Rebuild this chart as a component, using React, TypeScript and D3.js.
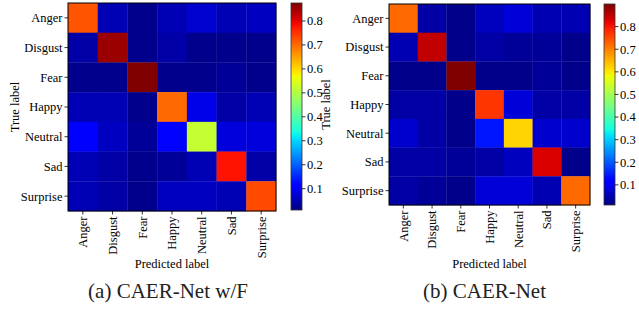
import React from "react";
import * as d3 from "d3";

const categories = ["Anger", "Disgust", "Fear", "Happy", "Neutral", "Sad", "Surprise"];

// rows = true label, cols = predicted label
const matrixWF: number[][] = [
  [0.72, 0.05, 0.02, 0.05, 0.07, 0.05, 0.06],
  [0.04, 0.855, 0.02, 0.04, 0.02, 0.02, 0.02],
  [0.02, 0.02, 0.875, 0.02, 0.02, 0.03, 0.02],
  [0.05, 0.05, 0.02, 0.70, 0.09, 0.04, 0.05],
  [0.11, 0.06, 0.03, 0.12, 0.52, 0.08, 0.08],
  [0.05, 0.04, 0.02, 0.03, 0.05, 0.78, 0.04],
  [0.05, 0.04, 0.02, 0.06, 0.06, 0.05, 0.73],
];

const matrixNet: number[][] = [
  [0.72, 0.04, 0.02, 0.06, 0.08, 0.05, 0.05],
  [0.05, 0.85, 0.02, 0.04, 0.03, 0.03, 0.02],
  [0.02, 0.02, 0.9, 0.02, 0.02, 0.03, 0.02],
  [0.04, 0.04, 0.02, 0.77, 0.08, 0.04, 0.04],
  [0.07, 0.04, 0.02, 0.14, 0.62, 0.07, 0.07],
  [0.04, 0.04, 0.03, 0.04, 0.06, 0.83, 0.02],
  [0.04, 0.03, 0.02, 0.08, 0.08, 0.05, 0.72],
];

const cbarTicks = [0.1, 0.2, 0.3, 0.4, 0.5, 0.6, 0.7, 0.8];
const captions = ["(a) CAER-Net w/F", "(b) CAER-Net"];
const domainWF: [number, number] = [0.011, 0.875];
const domainNet: [number, number] = [0.011, 0.9];

function jet(t: number): string {
  t = Math.max(0, Math.min(1, t));
  const seg = (pts: [number, number][]) => {
    for (let i = 0; i < pts.length - 1; i++) {
      const [x0, y0] = pts[i];
      const [x1, y1] = pts[i + 1];
      if (t >= x0 && t <= x1) return y0 + ((t - x0) / (x1 - x0)) * (y1 - y0);
    }
    return pts[pts.length - 1][1];
  };
  const r = seg([[0, 0], [0.35, 0], [0.66, 1], [0.89, 1], [1, 0.5]]);
  const g = seg([[0, 0], [0.125, 0], [0.375, 1], [0.64, 1], [0.91, 0], [1, 0]]);
  const b = seg([[0, 0.5], [0.11, 1], [0.34, 1], [0.65, 0], [1, 0]]);
  return d3.rgb(r * 255, g * 255, b * 255).formatHex();
}

const FONT = "Liberation Serif";

type PanelProps = {
  id: string;
  data: number[][];
  domain: [number, number];
  mx: number; my: number; ms: number;
  cx: number; cw: number; ch: number;
  ylabX: number;
  captionX: number;
  caption: string;
};

function Panel(p: PanelProps) {
  const xb = d3.scaleBand<string>().domain(categories).range([p.mx, p.mx + p.ms]);
  const yb = d3.scaleBand<string>().domain(categories).range([p.my, p.my + p.ms]);
  const norm = d3.scaleLinear().domain(p.domain).range([0, 1]);
  const cy = d3.scaleLinear().domain(p.domain).range([p.my + p.ch, p.my]);
  const stops = d3.range(0, 1.0001, 0.02);
  const fs = 12.5;
  const ts: React.CSSProperties = { fontFamily: FONT, fontSize: fs };
  return (
    <g>
      <defs>
        <linearGradient id={p.id} x1="0" y1="1" x2="0" y2="0">
          {stops.map((s) => (
            <stop key={s} offset={s} stopColor={jet(s)} />
          ))}
        </linearGradient>
      </defs>
      {p.data.map((row, i) =>
        row.map((v, j) => (
          <rect
            key={`${i}-${j}`}
            x={xb(categories[j])}
            y={yb(categories[i])}
            width={xb.bandwidth() + 0.3}
            height={yb.bandwidth() + 0.3}
            fill={jet(norm(v))}
          />
        ))
      )}
      <rect x={p.mx} y={p.my} width={p.ms} height={p.ms} fill="none" stroke="#000" strokeWidth={1} />
      {categories.map((c) => {
        const y = (yb(c) as number) + yb.bandwidth() / 2;
        return (
          <g key={"y" + c}>
            <line x1={p.mx - 3.5} x2={p.mx} y1={y} y2={y} stroke="#000" strokeWidth={0.8} />
            <text x={p.mx - 5.5} y={y} dy="0.35em" textAnchor="end" style={ts}>
              {c}
            </text>
          </g>
        );
      })}
      {categories.map((c) => {
        const x = (xb(c) as number) + xb.bandwidth() / 2;
        const yb0 = p.my + p.ms;
        return (
          <g key={"x" + c}>
            <line x1={x} x2={x} y1={yb0} y2={yb0 + 3.5} stroke="#000" strokeWidth={0.8} />
            <text
              transform={`translate(${x},${yb0 + 5.5}) rotate(-90)`}
              dy="0.35em"
              textAnchor="end"
              style={ts}
            >
              {c}
            </text>
          </g>
        );
      })}
      <text
        transform={`translate(${p.ylabX},${p.my + p.ms / 2}) rotate(-90)`}
        textAnchor="middle"
        style={ts}
      >
        True label
      </text>
      <text x={p.mx + p.ms / 2} y={267.5} textAnchor="middle" style={ts}>
        Predicted label
      </text>
      <rect x={p.cx} y={p.my} width={p.cw} height={p.ch} fill={`url(#${p.id})`} stroke="#333" strokeWidth={0.8} />
      {cbarTicks.map((t) => (
        <g key={"c" + t}>
          <line x1={p.cx + p.cw} x2={p.cx + p.cw + 3.5} y1={cy(t)} y2={cy(t)} stroke="#000" strokeWidth={0.8} />
          <text x={p.cx + p.cw + 5} y={cy(t)} dy="0.35em" style={ts}>
            {t.toFixed(1)}
          </text>
        </g>
      ))}
      <text x={p.captionX} y={298} textAnchor="middle" fill="#222" style={{ fontFamily: FONT, fontSize: 21 }}>
        {p.caption}
      </text>
    </g>
  );
}

export default function App() {
  return (
    <svg width={639} height={309} style={{ position: "absolute", left: 0, top: 0, background: "#fff" }}>
      <rect width={639} height={309} fill="#fff" />
      <Panel
        id="cbA"
        data={matrixWF}
        domain={domainWF}
        mx={68} my={3} ms={208}
        cx={291} cw={11} ch={207}
        ylabX={19}
        captionX={168}
        caption={captions[0]}
      />
      <Panel
        id="cbB"
        data={matrixNet}
        domain={domainNet}
        mx={389} my={4} ms={201}
        cx={604} cw={11} ch={201}
        ylabX={330}
        captionX={484.5}
        caption={captions[1]}
      />
    </svg>
  );
}
